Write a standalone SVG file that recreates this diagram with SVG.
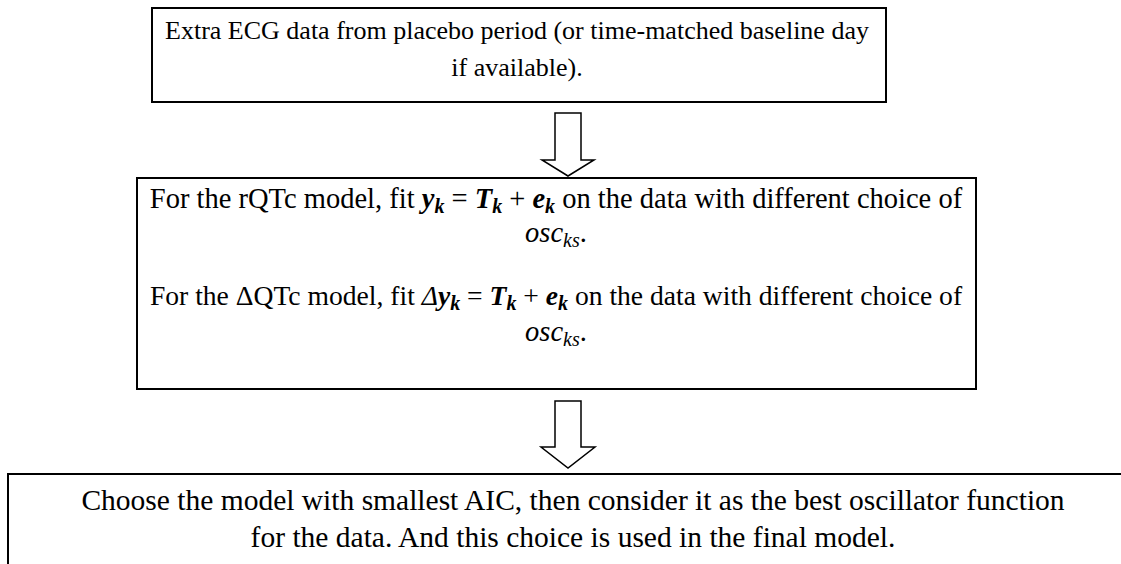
<svg xmlns="http://www.w3.org/2000/svg" width="1121" height="564" viewBox="0 0 1121 564">
<style>
.box{fill:#fff;stroke:#000;stroke-width:2}
.arr{fill:#fff;stroke:#000;stroke-width:1.5;stroke-linejoin:miter}
text{font-family:"Liberation Serif","Times New Roman",serif;fill:#000}
.t1{font-size:26px}
.t2{font-size:28.5px}
.t2b{font-size:27.6px}
.t3{font-size:29.5px}
.mb{font-weight:bold;font-style:italic}
.mi{font-style:italic}
.sub{font-size:20px}
</style>
<rect width="1121" height="564" fill="#fff"/>
<g id="node-source">
<rect class="box" x="152" y="8" width="734" height="94"/>
<text class="t1" x="517" y="39" text-anchor="middle">Extra ECG data from placebo period (or time-matched baseline day</text>
<text class="t1" x="517" y="76" text-anchor="middle">if available).</text>
</g>
<g id="node-fit">
<rect class="box" x="137" y="178" width="839" height="211"/>
<text class="t2" x="556" y="208" text-anchor="middle">For the rQTc model, fit <tspan class="mb">y</tspan><tspan class="mb sub" dy="5">k</tspan><tspan dy="-5"> = </tspan><tspan class="mb">T</tspan><tspan class="mb sub" dy="5">k</tspan><tspan dy="-5"> + </tspan><tspan class="mb">e</tspan><tspan class="mb sub" dy="5">k</tspan><tspan dy="-5"> on the data with different choice of</tspan></text>
<text class="t2" x="556" y="242" text-anchor="middle"><tspan class="mi">osc</tspan><tspan class="mi sub" dy="5">ks</tspan><tspan dy="-5">.</tspan></text>
<text class="t2b" x="556" y="305" text-anchor="middle">For the ΔQTc model, fit <tspan class="mi">Δ</tspan><tspan class="mb">y</tspan><tspan class="mb sub" dy="5">k</tspan><tspan dy="-5"> = </tspan><tspan class="mb">T</tspan><tspan class="mb sub" dy="5">k</tspan><tspan dy="-5"> + </tspan><tspan class="mb">e</tspan><tspan class="mb sub" dy="5">k</tspan><tspan dy="-5"> on the data with different choice of</tspan></text>
<text class="t2" x="556" y="341" text-anchor="middle"><tspan class="mi">osc</tspan><tspan class="mi sub" dy="5">ks</tspan><tspan dy="-5">.</tspan></text>
</g>
<g id="node-choose">
<rect class="box" x="8" y="474" width="1130" height="100"/>
<text class="t3" x="573" y="510" text-anchor="middle">Choose the model with smallest AIC, then consider it as the best oscillator function</text>
<text class="t3" x="573" y="547" text-anchor="middle">for the data. And this choice is used in the final model.</text>
</g>
<g id="connectors">
<path class="arr" d="M555 113 H581 V160 H594 L568 176 L542 160 H555 Z"/>
<path class="arr" d="M555 401 H581 V447 H595 L568 468 L541 447 H555 Z"/>
</g>
</svg>
